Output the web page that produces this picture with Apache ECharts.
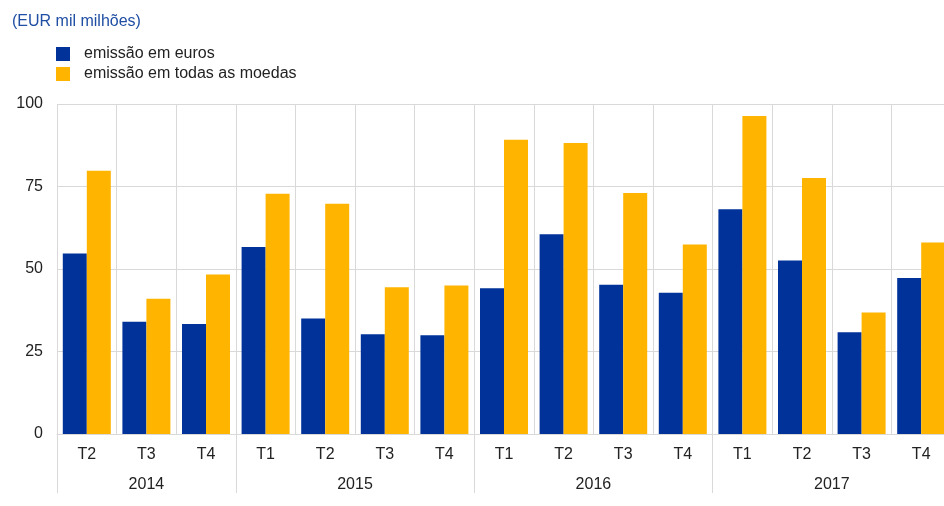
<!DOCTYPE html>
<html>
<head>
<meta charset="utf-8">
<script src="https://cdn.jsdelivr.net/npm/echarts@6/dist/echarts.min.js"></script>
<style>
  html, body { margin: 0; padding: 0; background: #fff; }
  #chart { width: 944px; height: 506px; }
</style>
</head>
<body>
<div id="chart"></div>
<script>
'use strict';

// quarters (T = trimestre), 2014 T2 .. 2017 T4
var quarters = ['T2', 'T3', 'T4', 'T1', 'T2', 'T3', 'T4', 'T1', 'T2', 'T3', 'T4', 'T1', 'T2', 'T3', 'T4'];
var years = ['2014', '2015', '2016', '2017'];
var quartersPerYear = [3, 4, 4, 4];

var emissaoEuros = [54.7, 34.0, 33.3, 56.7, 35.0, 30.2, 29.9, 44.2, 60.5, 45.2, 42.8, 68.1, 52.6, 30.8, 47.3];
var emissaoTodas = [79.8, 41.0, 48.3, 72.8, 69.8, 44.5, 45.0, 89.2, 88.2, 73.0, 57.4, 96.4, 77.6, 36.8, 58.0];

var yTicks = [0, 25, 50, 75, 100];

// year group edges and centres on a 0..n scale
var yearEdges = [0];
var yearCenters = [];
quartersPerYear.forEach(function (n, i) {
    var start = yearEdges[i];
    yearEdges.push(start + n);
    yearCenters.push(start + n / 2);
});

var gridColor = '#d9d9d9';
var font = 'Liberation Sans, Arial, sans-serif';

var chart = echarts.init(document.getElementById('chart'));

var option = {
    animation: false,
    textStyle: { fontFamily: font },
    title: {
        text: '(EUR mil milhões)',
        left: 7,
        top: 9,
        textStyle: { fontSize: 16, fontWeight: 'normal', color: '#1f4ea3', fontFamily: font }
    },
    legend: {
        orient: 'vertical',
        left: 51,
        top: 41,
        itemWidth: 14,
        itemHeight: 14,
        itemGap: 4,
        icon: 'rect',
        textStyle: { fontSize: 16, color: '#222', fontFamily: font, padding: [0, 0, 0, 9] },
        data: ['emissão em euros', 'emissão em todas as moedas']
    },
    grid: {
        left: 57,
        top: 104,
        width: 894,
        height: 330,
        containLabel: false,
        outerBoundsMode: 'none'
    },
    xAxis: [
        {
            type: 'category',
            data: quarters,
            position: 'bottom',
            axisLine: { show: true, lineStyle: { color: gridColor, width: 1 } },
            axisTick: { show: false },
            splitLine: { show: true, lineStyle: { color: gridColor, width: 1 } },
            axisLabel: { fontSize: 16, color: '#222', margin: 13, interval: 0, fontFamily: font }
        },
        {
            type: 'value',
            position: 'bottom',
            min: 0,
            max: quarters.length,
            axisLine: { show: false },
            splitLine: { show: false },
            axisTick: {
                show: true,
                customValues: yearEdges,
                length: 59,
                lineStyle: { color: gridColor, width: 1 }
            },
            axisLabel: {
                customValues: yearCenters,
                fontSize: 16,
                color: '#222',
                margin: 43,
                fontFamily: font,
                formatter: function (v) {
                    var i = yearCenters.indexOf(v);
                    return i >= 0 ? years[i] : '';
                }
            }
        }
    ],
    yAxis: {
        type: 'value',
        min: yTicks[0],
        max: yTicks[yTicks.length - 1],
        interval: yTicks[1] - yTicks[0],
        axisLine: { show: false },
        axisTick: { show: false },
        splitLine: { show: true, lineStyle: { color: gridColor, width: 1 } },
        axisLabel: { fontSize: 16, color: '#222', margin: 14, fontFamily: font }
    },
    series: [
        {
            name: 'emissão em euros',
            type: 'bar',
            xAxisIndex: 0,
            data: emissaoEuros,
            barWidth: 24,
            barGap: '0%',
            itemStyle: { color: '#003299' }
        },
        {
            name: 'emissão em todas as moedas',
            type: 'bar',
            xAxisIndex: 0,
            data: emissaoTodas,
            barWidth: 24,
            barGap: '0%',
            itemStyle: { color: '#ffb400' }
        }
    ]
};

chart.setOption(option);
</script>
</body>
</html>
